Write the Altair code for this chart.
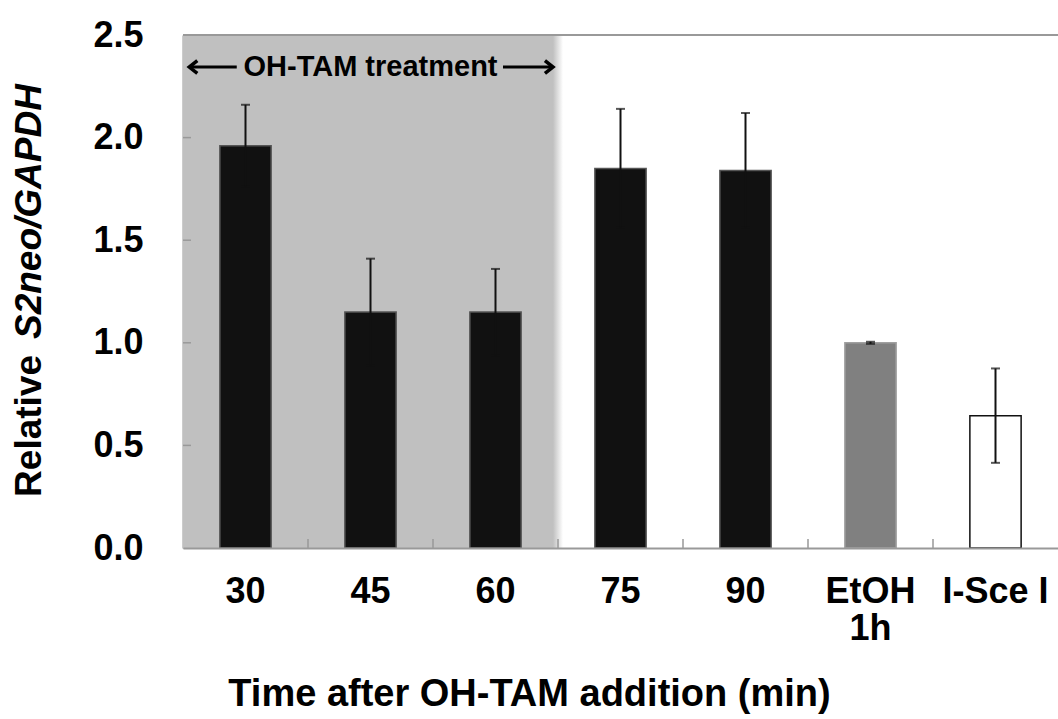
import altair as alt
import pandas as pd

# Relative S2neo/GAPDH signal after OH-TAM addition
categories = ["30", "45", "60", "75", "90", "EtOH 1h", "I-Sce I"]
means = [1.96, 1.15, 1.15, 1.85, 1.84, 1.00, 0.645]
errors = [0.20, 0.26, 0.21, 0.29, 0.28, 0.005, 0.23]
fills = ["#111111", "#111111", "#111111", "#111111", "#111111", "#808080", "#ffffff"]
strokes = ["#555555", "#555555", "#555555", "#555555", "#555555", "#a0a0a0", "#111111"]
treatment = ["30", "60", "75"]
y_ticks = [0.0, 0.5, 1.0, 1.5, 2.0, 2.5]
inner_ticks = [0.5, 1.0, 1.5, 2.0]

W, H = 875, 513
FONT = "Liberation Sans"

df = pd.DataFrame({
    "cat": categories,
    "mean": means,
    "lo": [m - e for m, e in zip(means, errors)],
    "hi": [m + e for m, e in zip(means, errors)],
    "fill": fills,
    "stroke": strokes,
})

x_scale = alt.Scale(domain=categories, paddingInner=0, paddingOuter=0)
y_scale = alt.Scale(domain=[0, 2.5], nice=False, zero=True)

x_axis = alt.Axis(
    title="Time after OH-TAM addition (min)",
    labelAngle=0,
    labelFont=FONT, labelFontSize=36, labelFontWeight="bold", labelColor="black",
    labelPadding=26, labelBaseline="top", labelLineHeight=37,
    labelExpr="datum.label == 'EtOH 1h' ? ['EtOH', '1h'] : datum.label",
    ticks=False, domain=True, domainColor="#999999", domainWidth=2,
    titleFont=FONT, titleFontSize=38, titleFontWeight="bold", titleColor="black",
    titleX=346, titleY=157, titleAnchor="middle", titleAlign="center",
    titleBaseline="alphabetic",
)
y_axis = alt.Axis(
    title=None, values=y_ticks, format=".1f",
    labelFont=FONT, labelFontSize=36, labelFontWeight="bold", labelColor="black",
    labelPadding=40, ticks=False, tickSize=0, grid=False,
    domain=True, domainColor="#999999", domainWidth=2,
)

base = alt.Chart(df)

# shaded OH-TAM treatment window
shade_df = pd.DataFrame({
    "start": [treatment[0]], "end": [treatment[1]], "after": [treatment[2]],
    "top": [2.5], "bottom": [0.0],
})
shade = alt.Chart(shade_df).mark_rect(color="#c0c0c0").encode(
    x=alt.X("start:N", scale=x_scale, bandPosition=0, axis=x_axis),
    x2=alt.X2("end", bandPosition=0.96),
    y=alt.Y("top:Q", scale=y_scale, axis=y_axis),
    y2="bottom",
)
# soft right edge of the shaded window
fade = alt.Chart(shade_df).mark_rect(
    fill=alt.Gradient(
        gradient="linear", x1=0, x2=1, y1=0, y2=0,
        stops=[alt.GradientStop(color="#c0c0c0", offset=0),
               alt.GradientStop(color="#ffffff", offset=1)],
    )
).encode(
    x=alt.X("end:N", scale=x_scale, bandPosition=0.96),
    x2=alt.X2("after", bandPosition=0.04),
    y=alt.Y("top:Q", scale=y_scale),
    y2="bottom",
)

# top frame line
frame = alt.Chart(pd.DataFrame({"v": [2.5]})).mark_rule(color="#999999", strokeWidth=2).encode(
    y=alt.Y("v:Q", scale=y_scale)
)

bars = base.mark_bar(width=alt.RelativeBandSize(0.41), strokeWidth=1.5).encode(
    x=alt.X("cat:N", scale=x_scale, sort=categories),
    y=alt.Y("mean:Q", scale=y_scale),
    fill=alt.Fill("fill:N", scale=None),
    stroke=alt.Stroke("stroke:N", scale=None),
)

err = base.mark_rule(color="#111111", strokeWidth=2).encode(
    x=alt.X("cat:N", scale=x_scale),
    y=alt.Y("lo:Q", scale=y_scale),
    y2="hi",
)
caps_hi = base.mark_tick(color="#111111", thickness=2, size=9, orient="horizontal").encode(
    x=alt.X("cat:N", scale=x_scale),
    y=alt.Y("hi:Q", scale=y_scale),
)
caps_lo = base.mark_tick(color="#111111", thickness=2, size=9, orient="horizontal").encode(
    x=alt.X("cat:N", scale=x_scale),
    y=alt.Y("lo:Q", scale=y_scale),
)

# inward ticks on both axes
xt_df = pd.DataFrame({"cat": categories[1:]})
x_ticks = alt.Chart(xt_df).mark_rule(color="#999999", strokeWidth=1.5).encode(
    x=alt.X("cat:N", scale=x_scale, bandPosition=0),
    y=alt.value(H),
    y2=alt.value(H - 9),
)
yt_df = pd.DataFrame({"v": inner_ticks})
y_tick_rules = alt.Chart(yt_df).mark_rule(color="#999999", strokeWidth=1.5).encode(
    y=alt.Y("v:Q", scale=y_scale),
    x=alt.value(0),
    x2=alt.value(8),
)

# arrow annotation inside the treatment window
ann_y = 2.344
left_line = alt.Chart(pd.DataFrame({"a": ["30"], "y": [ann_y]})).mark_rule(color="black", strokeWidth=3).encode(
    x=alt.X("a:N", scale=x_scale, bandPosition=0.05),
    x2=alt.X2("a", bandPosition=0.43),
    y=alt.Y("y:Q", scale=y_scale),
)
right_line = alt.Chart(pd.DataFrame({"a": ["60"], "y": [ann_y]})).mark_rule(color="black", strokeWidth=3).encode(
    x=alt.X("a:N", scale=x_scale, bandPosition=0.56),
    x2=alt.X2("a", bandPosition=0.96),
    y=alt.Y("y:Q", scale=y_scale),
)
left_head = alt.Chart(pd.DataFrame({"a": ["30"], "y": [ann_y]})).mark_point(
    shape="M1,-0.8L0,0L1,0.8", size=260, filled=False, color="black", strokeWidth=3.5, opacity=1
).encode(
    x=alt.X("a:N", scale=x_scale, bandPosition=0.05),
    y=alt.Y("y:Q", scale=y_scale),
)
right_head = alt.Chart(pd.DataFrame({"a": ["60"], "y": [ann_y]})).mark_point(
    shape="M-1,-0.8L0,0L-1,0.8", size=260, filled=False, color="black", strokeWidth=3.5, opacity=1
).encode(
    x=alt.X("a:N", scale=x_scale, bandPosition=0.96),
    y=alt.Y("y:Q", scale=y_scale),
)
ann_text = alt.Chart(pd.DataFrame({"a": ["45"], "y": [ann_y], "t": ["OH-TAM treatment"]})).mark_text(
    font=FONT, fontSize=29, fontWeight="bold", color="black", baseline="middle", align="center"
).encode(
    x=alt.X("a:N", scale=x_scale),
    y=alt.Y("y:Q", scale=y_scale),
    text="t:N",
)

# y-axis title with italic gene names
title_a = alt.Chart(pd.DataFrame({"t": ["Relative"]})).mark_text(
    font=FONT, fontSize=37, fontWeight="bold", color="black", angle=270,
    align="right", baseline="middle",
).encode(x=alt.value(-153), y=alt.value(320), text="t:N")
title_b = alt.Chart(pd.DataFrame({"t": ["S2neo/GAPDH"]})).mark_text(
    font=FONT, fontSize=37, fontWeight="bold", fontStyle="italic", color="black", angle=270,
    align="left", baseline="middle",
).encode(x=alt.value(-153), y=alt.value(304), text="t:N")

chart = alt.layer(
    shade, fade, frame, x_ticks, y_tick_rules, bars, err, caps_hi, caps_lo,
    left_line, right_line, left_head, right_head, ann_text, title_a, title_b,
).properties(
    width=W, height=H,
    autosize=alt.AutoSizeParams(type="none"),
    padding={"left": 183, "top": 35, "right": 0, "bottom": 171},
).configure_view(stroke=None).configure(background="white")

chart.save("out.html", embed_options={"renderer": "svg", "actions": False})
